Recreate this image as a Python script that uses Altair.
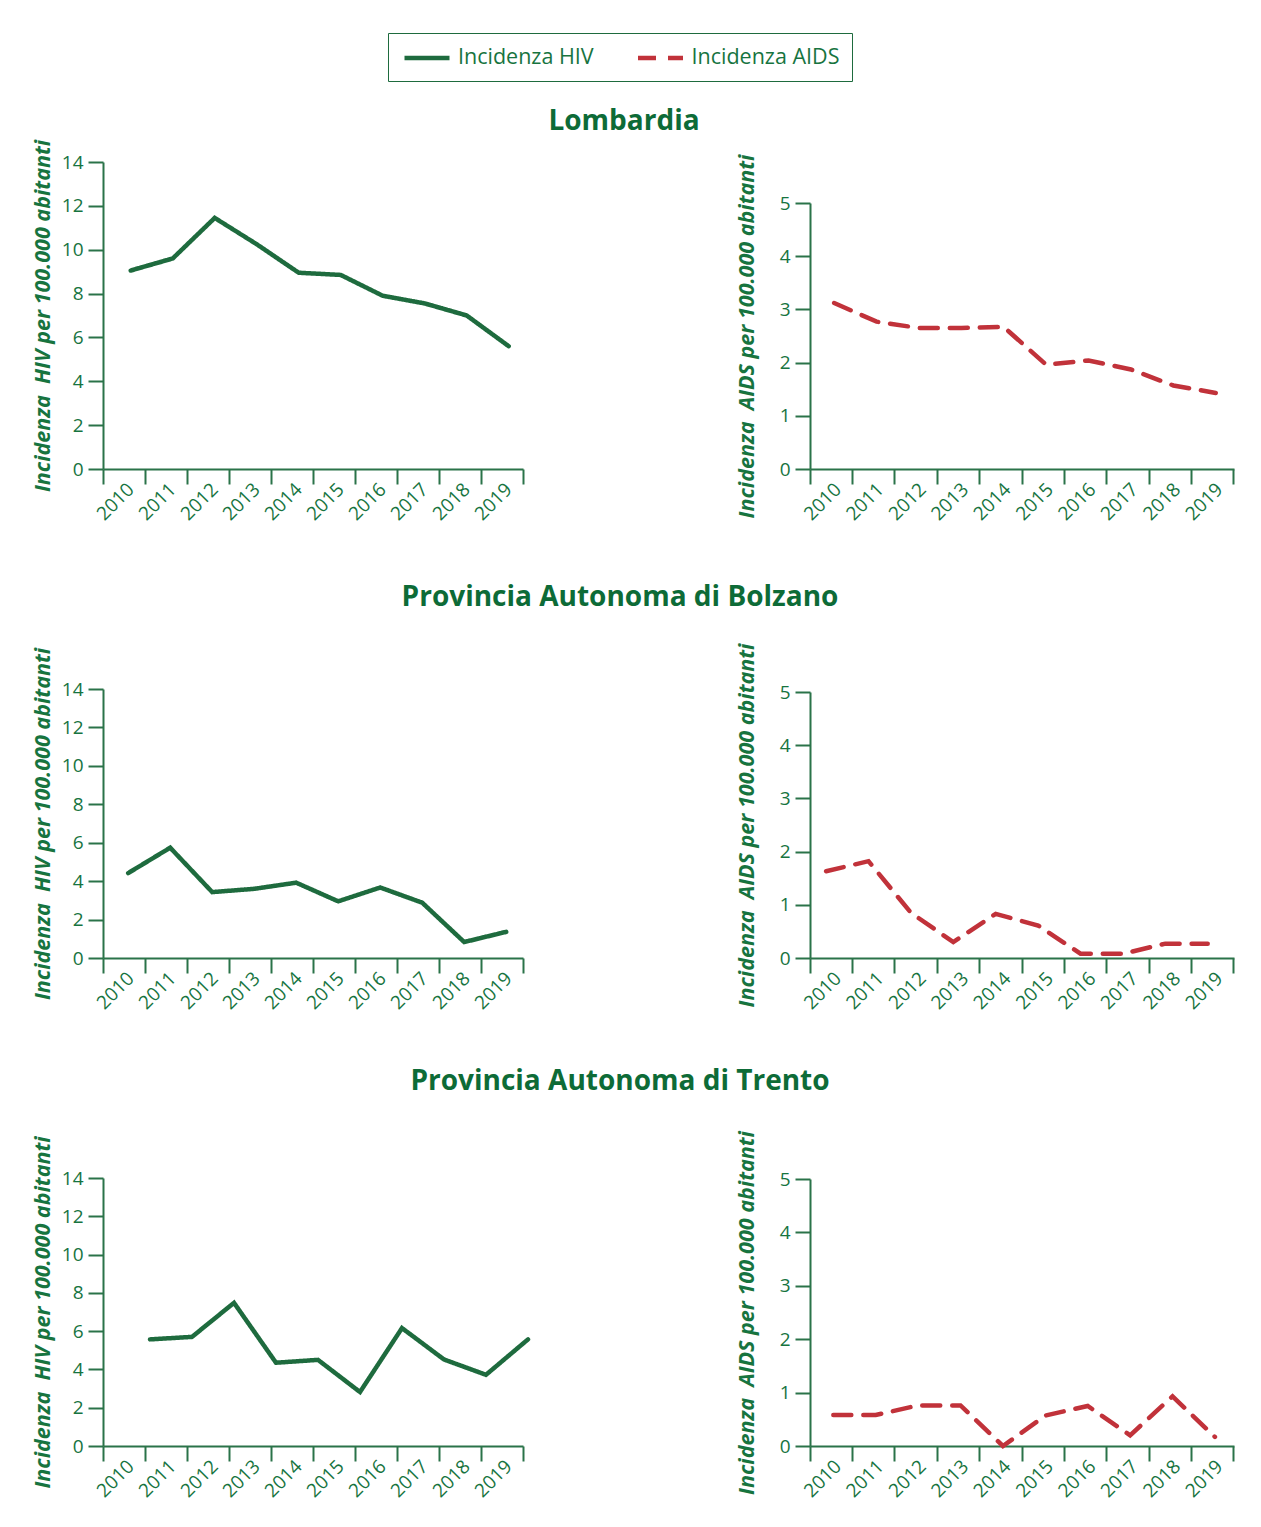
import altair as alt
import pandas as pd

YEARS = [str(y) for y in range(2010, 2020)]
SERIES = ["Incidenza HIV", "Incidenza AIDS"]

# Lombardia
LOMB_HIV = [9.05, 9.6, 11.45, 10.25, 8.95, 8.85, 7.9, 7.55, 7.0, 5.6]
LOMB_AIDS = [3.12, 2.77, 2.65, 2.65, 2.67, 1.96, 2.04, 1.87, 1.57, 1.43]
# Provincia Autonoma di Bolzano
BOLZ_HIV = [4.42, 5.74, 3.43, 3.6, 3.92, 2.95, 3.67, 2.88, 0.83, 1.36]
BOLZ_AIDS = [1.63, 1.82, 0.85, 0.3, 0.83, 0.61, 0.08, 0.08, 0.27, 0.27]
# Provincia Autonoma di Trento
TREN_HIV = [5.57, 5.7, 7.48, 4.35, 4.5, 2.82, 6.16, 4.52, 3.72, 5.57]
TREN_AIDS = [0.58, 0.58, 0.76, 0.76, 0.0, 0.57, 0.75, 0.2, 0.93, 0.17]

REGIONS = ["Lombardia", "Provincia Autonoma di Bolzano", "Provincia Autonoma di Trento"]

LINE_GREEN = "#1e6b3e"
RED = "#c1323a"
AXIS = "#2a7349"
TEXT = "#17743f"
TITLE = "#0d6b37"
FONT = "Open Sans"
LABEL_SIZE = 19
TITLE_SIZE = 21.5

legend = alt.Legend(
    orient="none", legendX=285, legendY=-129, direction="horizontal", title=None,
    strokeColor=LINE_GREEN, padding=12.5, symbolType="M-2.25,0H2.25", symbolSize=400,
    symbolOffset=14, symbolStrokeWidth=4.5, labelFont=FONT, labelFontSize=21.5,
    labelColor=TEXT, labelOffset=18.5, columnPadding=34.5, labelLimit=300,
)


def panel(values, serie, height, ymax, ystep, yrange, band, xoff=0, title=None, toffset=0, tdx=0):
    df = pd.DataFrame({"Anno": YEARS, "Valore": values, "Serie": serie})
    hiv = serie == SERIES[0]
    ytitle = ("Incidenza\u00a0 HIV per 100.000 abitanti" if hiv
              else "Incidenza\u00a0 AIDS per 100.000 abitanti")
    width = 420 if hiv else 424
    if yrange is not None:
        yscale = alt.Scale(domain=[0, ymax], nice=False, zero=True, range=yrange)
    else:
        yscale = alt.Scale(domain=[0, ymax], nice=False, zero=True)
    ch = alt.Chart(df).mark_line(strokeWidth=4.5, strokeCap="round", xOffset=xoff).encode(
        x=alt.X("Anno:O", bandPosition=band,
                scale=alt.Scale(type="band", paddingInner=0, paddingOuter=0),
                axis=alt.Axis(title=None, bandPosition=1, tickExtra=True, labelAngle=315,
                              labelAlign="right", labelBaseline="middle", labelOffset=7,
                              labelPadding=2, labelOverlap=False, tickSize=15,
                              labelFont=FONT, labelFontSize=LABEL_SIZE, labelColor=TEXT)),
        y=alt.Y("Valore:Q", scale=yscale,
                axis=alt.Axis(title=ytitle, values=list(range(0, ymax + 1, ystep)),
                              tickSize=15, labelPadding=5, titleX=-49 if hiv else -52,
                              labelFont=FONT, labelFontSize=LABEL_SIZE, labelColor=TEXT,
                              titleFont=FONT, titleFontSize=TITLE_SIZE, titleColor=TEXT,
                              titleFontWeight="bold", titleFontStyle="italic")),
        color=alt.Color("Serie:N", scale=alt.Scale(domain=SERIES, range=[LINE_GREEN, RED]),
                        legend=legend),
        strokeDash=alt.StrokeDash("Serie:N",
                                  scale=alt.Scale(domain=SERIES, range=[[1, 0], [18, 12]]),
                                  legend=legend),
    ).properties(width=width, height=height)
    if title is not None:
        ch = ch.properties(title=alt.TitleParams(
            text=title, anchor="middle", frame="group", dx=tdx, offset=toffset,
            font=FONT, fontSize=28, fontWeight="bold", color=TITLE))
    return ch


p1 = panel(LOMB_HIV, SERIES[0], 307, 14, 2, None, 0.66, 0, REGIONS[0], 3, 311)
p2 = panel(LOMB_AIDS, SERIES[1], 307, 5, 1, [307, 41], 0.57)
p3 = panel(BOLZ_HIV, SERIES[0], 269, 14, 2, None, 0.6, 0, REGIONS[1], 35, 307)
p4 = panel(BOLZ_AIDS, SERIES[1], 269, 5, 1, [269, 3], 0.38)
p5 = panel(TREN_HIV, SERIES[0], 268, 14, 2, None, 1.0, 5, REGIONS[2], 40, 307)
p6 = panel(TREN_AIDS, SERIES[1], 268, 5, 1, [268, 1], 0.55)

chart = alt.concat(
    p1, p2, p3, p4, p5, p6, columns=2, spacing={"row": 220, "column": 287}, bounds="flush"
).properties(
    padding={"left": 23, "top": 24, "right": 10, "bottom": 10}
).configure_view(stroke=None).configure_axis(
    domainColor=AXIS, tickColor=AXIS, domainWidth=2, tickWidth=2, grid=False,
)

chart.save("out.html", embed_options={"renderer": "svg", "actions": False})
